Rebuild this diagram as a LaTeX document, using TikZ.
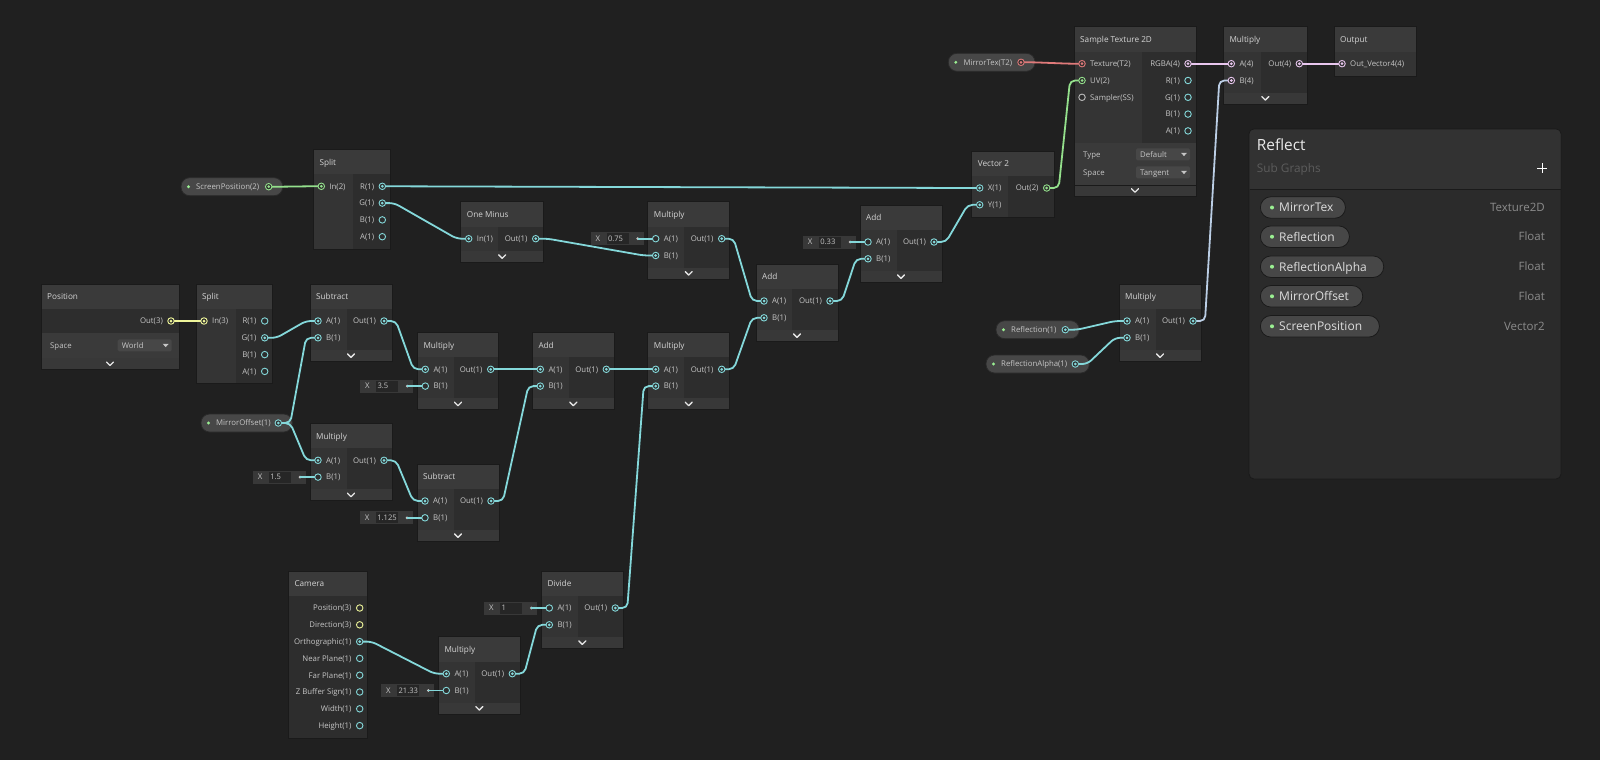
\documentclass[tikz,border=0pt]{standalone}
\usepackage{fontspec}
\setmainfont{Open Sans}
\usetikzlibrary{positioning}
\pgfdeclarelayer{fg}
\pgfsetlayers{main,fg}

\definecolor{bgc}{HTML}{202020}
\definecolor{hdc}{HTML}{3A3A3A}
\definecolor{inc}{HTML}{343434}
\definecolor{outc}{HTML}{2D2D2D}
\definecolor{ftc}{HTML}{383838}
\definecolor{edgec}{HTML}{1A1A1A}
\definecolor{ttlc}{HTML}{D4D4D4}
\definecolor{lblc}{HTML}{C6C6C6}
\definecolor{chevc}{HTML}{E6E6E6}
\definecolor{pillc}{HTML}{474747}
\definecolor{pilledge}{HTML}{2A2A2A}
\definecolor{dotg}{HTML}{9AEF92}
\definecolor{valc}{HTML}{383838}
\definecolor{fldc}{HTML}{262626}
\definecolor{ddc}{HTML}{474747}
\definecolor{wcy}{HTML}{84D8DA}
\definecolor{wgn}{HTML}{94E08C}
\definecolor{wyl}{HTML}{EEF59A}
\definecolor{wpk}{HTML}{E8C6EE}
\definecolor{wrd}{HTML}{E07A7A}
\definecolor{wgr}{HTML}{BDBDBD}
\definecolor{panc}{HTML}{2B2B2B}
\definecolor{panhd}{HTML}{323232}
\definecolor{ppillc}{HTML}{474747}

\tikzset{
  ttl/.style={text=ttlc,font=\fontsize{8.2}{10}\selectfont,inner sep=0pt,text height=6pt,text depth=0pt},
  lbl/.style={text=lblc,font=\fontsize{7.8}{10}\selectfont,inner sep=0pt,text height=5.7pt,text depth=0pt},
  edge/.style={draw=edgec,line width=0.6pt},
  chev/.style={draw=chevc,line width=1.3pt,line cap=round,line join=round},
  sock/.style={circle,draw=#1,line width=0.9pt,fill=outc,minimum size=6.5pt,inner sep=0pt},
  sockon/.style={sock=#1,path picture={\fill[#1] (path picture bounding box.center) circle (1.5pt);}},
  wire/.style={line width=1.8pt,rounded corners=5pt},
  valbox/.style={fill=valc,minimum width=53pt,minimum height=13pt,inner sep=0pt},
  valfld/.style={fill=fldc,text width=19pt,minimum height=11pt,inner xsep=1.5pt,inner ysep=0pt,align=left,
    text=lblc,font=\fontsize{7.6}{9}\selectfont,text height=5.5pt,text depth=0pt},
  valdot/.style={circle,fill=lblc,minimum size=3pt,inner sep=0pt},
  ppill/.style={fill=ppillc,draw=edgec,line width=0.8pt,rounded corners=10.5pt,minimum height=21.5pt,inner sep=0pt},
  plbl/.style={text=ttlc!80!white,font=\fontsize{12}{14}\selectfont,inner sep=0pt,text height=8.6pt,text depth=0pt},
  ptyp/.style={text=white!55!black,font=\fontsize{11.5}{14}\selectfont,inner sep=0pt,text height=8.2pt,text depth=0pt}
}

% graph node: name, left, top, width, input width, rows, title, footer
\newcommand{\gnode}[8]{%
  \fill[hdc] (#2,#3) rectangle ++(#4,25);
  \node[ttl,anchor=west] (#1) at ({#2+6},{#3+12.8}) {#7};
  \fill[outc] ({#2},{#3+25}) rectangle ({#2+#4},{#3+32.5+16.8*#6});
  \fill[inc] ({#2},{#3+25}) rectangle ({#2+#5},{#3+32.5+16.8*#6});
  \ifnum#8=1
    \fill[ftc] ({#2},{#3+32.5+16.8*#6}) rectangle ({#2+#4},{#3+43.5+16.8*#6});
    \draw[chev] ({#2+#4/2-3.5},{#3+36.3+16.8*#6}) -- ({#2+#4/2},{#3+39.8+16.8*#6}) -- ({#2+#4/2+3.5},{#3+36.3+16.8*#6});
    \draw[edge] (#2,#3) rectangle ({#2+#4},{#3+43.5+16.8*#6});
  \else
    \draw[edge] (#2,#3) rectangle ({#2+#4},{#3+32.5+16.8*#6});
  \fi
}
% ports: name, left/right, top, row, label, socket
\newcommand{\sgpin}[6]{%
  \node[lbl,anchor=west] at ({#2+16},{#3+37+16.8*#4}) {#5};
  \begin{pgfonlayer}{fg}\node[#6] (#1) at ({#2+8},{#3+37+16.8*#4}) {};\end{pgfonlayer}
}
\newcommand{\sgpout}[6]{%
  \node[lbl,anchor=east] at ({#2-16},{#3+37+16.8*#4}) {#5};
  \begin{pgfonlayer}{fg}\node[#6] (#1) at ({#2-8},{#3+37+16.8*#4}) {};\end{pgfonlayer}
}
% property pill: name, left, y, width, label, socket
\newcommand{\sgpill}[6]{%
  \fill[pillc,draw=pilledge,line width=0.8pt,rounded corners=8.5pt] (#2,{#3-9}) rectangle ({#2+#4},{#3+9});
  \fill[dotg] ({#2+7.5},#3) circle (1.6);
  \node[lbl,anchor=west] at ({#2+15},#3) {#5};
  \begin{pgfonlayer}{fg}\node[#6] (#1) at ({#2+#4-14},#3) {};\end{pgfonlayer}
}
% inline value: name, port, value
\newcommand{\sgval}[3]{%
  \node[valbox,anchor=east] (#1) at ([xshift=-12pt]#2.center) {};
  \node[lbl,anchor=west] at ([xshift=5pt]#1.west) {X};
  \node[valfld,anchor=west] at ([xshift=16pt]#1.west) {#3};
  \node[valdot] (#1-d) at ([xshift=-6pt]#1.east) {};
  \draw[wire,wcy] (#1-d.center) -- (#2.center);
}
\newcommand{\sgwire}[3][wcy]{\draw[wire,#1] (#2.center) -- ++(12,0) -- ([xshift=-12pt]#3.center) -- (#3.center);}
\newcommand{\sgdrop}[3]{% x, y, text
  \fill[ddc,rounded corners=1.5pt] (#1,{#2-6}) rectangle ({#1+54},{#2+6});
  \node[lbl,anchor=west] at ({#1+4},#2) {#3};
  \fill[lblc] ({#1+45},{#2-1.5}) -- ({#1+51},{#2-1.5}) -- ({#1+48},{#2+1.8}) -- cycle;
}
% panel property: name, y, width, label, type
\newcommand{\sgprop}[5]{%
  \node[ppill,minimum width=#3pt,anchor=west] (#1) at (1260,#2) {};
  \fill[dotg] (1272,#2) circle (2);
  \node[plbl,anchor=west] at (1279,#2) {#4};
  \node[ptyp,anchor=east] at (1545,#2) {#5};
}

\begin{document}
\begin{tikzpicture}[x=1pt,y=-1pt]
 \useasboundingbox (0,0) rectangle (1600,760);
 \fill[bgc] (0,0) rectangle (1600,760);

 % screen position branch
 \sgpill{scrpos}{181}{186.7}{101.7}{ScreenPosition(2)}{sockon=wgn}
 \gnode{splitA}{313.3}{149.3}{77}{39.4}{4}{Split}{0}
 \sgpin{sA-in}{313.3}{149.3}{0}{In(2)}{sockon=wgn}
 \sgpout{sA-r}{390.3}{149.3}{0}{R(1)}{sockon=wcy}
 \sgpout{sA-g}{390.3}{149.3}{1}{G(1)}{sockon=wcy}
 \sgpout{sA-b}{390.3}{149.3}{2}{B(1)}{sock=wcy}
 \sgpout{sA-a}{390.3}{149.3}{3}{A(1)}{sock=wcy}

 \gnode{omin}{460.7}{201.7}{83}{37.6}{1}{One Minus}{1}
 \sgpin{om-in}{460.7}{201.7}{0}{In(1)}{sockon=wcy}
 \sgpout{om-out}{543.7}{201.7}{0}{Out(1)}{sockon=wcy}

 \gnode{mulA}{647.7}{201.7}{82}{36.6}{2}{Multiply}{1}
 \sgpin{mA-a}{647.7}{201.7}{0}{A(1)}{sock=wcy}
 \sgpin{mA-b}{647.7}{201.7}{1}{B(1)}{sockon=wcy}
 \sgpout{mA-out}{729.7}{201.7}{0}{Out(1)}{sockon=wcy}

 \gnode{addA}{756}{264}{82}{35.7}{2}{Add}{1}
 \sgpin{aA-a}{756}{264}{0}{A(1)}{sockon=wcy}
 \sgpin{aA-b}{756}{264}{1}{B(1)}{sockon=wcy}
 \sgpout{aA-out}{838}{264}{0}{Out(1)}{sockon=wcy}

 \gnode{addB}{860}{205}{82}{37.3}{2}{Add}{1}
 \sgpin{aB-a}{860}{205}{0}{A(1)}{sock=wcy}
 \sgpin{aB-b}{860}{205}{1}{B(1)}{sockon=wcy}
 \sgpout{aB-out}{942}{205}{0}{Out(1)}{sockon=wcy}

 \gnode{vecA}{971.7}{151}{83}{36.6}{2}{Vector 2}{0}
 \sgpin{v-x}{971.7}{151}{0}{X(1)}{sockon=wcy}
 \sgpin{v-y}{971.7}{151}{1}{Y(1)}{sockon=wcy}
 \sgpout{v-out}{1054.7}{151}{0}{Out(2)}{sockon=wgn}

 % texture sampling
 \sgpill{mtex}{948.3}{62.3}{86.7}{MirrorTex(T2)}{sockon=wrd}
 \gnode{smp}{1074}{26.7}{122}{67.7}{5}{Sample Texture 2D}{0}
 \fill[hdc] (1074,143.2) rectangle (1196,185);
 \fill[ftc] (1074,185) rectangle (1196,196);
 \draw[edgec,line width=0.6pt] (1074,185) -- (1196,185);
 \draw[chev] (1131.5,188.7) -- (1135,192.2) -- (1138.5,188.7);
 \draw[edge] (1074,26.7) rectangle (1196,196);
 \node[lbl,anchor=west] at (1083,154.3) {Type};
 \sgdrop{1136}{154.3}{Default}
 \node[lbl,anchor=west] at (1083,172.3) {Space};
 \sgdrop{1136}{172.3}{Tangent}
 \sgpin{st-tex}{1074}{26.7}{0}{Texture(T2)}{sockon=wrd}
 \sgpin{st-uv}{1074}{26.7}{1}{UV(2)}{sockon=wgn}
 \sgpin{st-smp}{1074}{26.7}{2}{Sampler(SS)}{sock=wgr}
 \sgpout{st-rgba}{1196}{26.7}{0}{RGBA(4)}{sockon=wpk}
 \sgpout{st-r}{1196}{26.7}{1}{R(1)}{sock=wcy}
 \sgpout{st-g}{1196}{26.7}{2}{G(1)}{sock=wcy}
 \sgpout{st-b}{1196}{26.7}{3}{B(1)}{sock=wcy}
 \sgpout{st-a}{1196}{26.7}{4}{A(1)}{sock=wcy}

 \gnode{mulB}{1223.3}{26.7}{84}{37.7}{2}{Multiply}{1}
 \sgpin{mB-a}{1223.3}{26.7}{0}{A(4)}{sockon=wpk}
 \sgpin{mB-b}{1223.3}{26.7}{1}{B(4)}{sockon=wpk}
 \sgpout{mB-out}{1307.3}{26.7}{0}{Out(4)}{sockon=wpk}

 \gnode{outn}{1334}{26.7}{82}{82}{1}{Output}{0}
 \sgpin{o-in}{1334}{26.7}{0}{Out\_Vector4(4)}{sockon=wpk}

 \sgpill{refl}{996}{329.7}{83.3}{Reflection(1)}{sockon=wcy}
 \sgpill{reflal}{986}{364}{103.3}{ReflectionAlpha(1)}{sockon=wcy}
 \gnode{mulC}{1119}{284}{82}{36.7}{2}{Multiply}{1}
 \sgpin{mC-a}{1119}{284}{0}{A(1)}{sockon=wcy}
 \sgpin{mC-b}{1119}{284}{1}{B(1)}{sockon=wcy}
 \sgpout{mC-out}{1201}{284}{0}{Out(1)}{sockon=wcy}

 % world position branch
 \gnode{posn}{41}{284}{138}{0}{1}{Position}{0}
 \fill[hdc] (41,333.3) rectangle (179,358.3);
 \fill[ftc] (41,358.3) rectangle (179,369.3);
 \draw[chev] (106.5,362) -- (110,365.5) -- (113.5,362);
 \draw[edge] (41,284) rectangle (179,369.3);
 \node[lbl,anchor=west] at (50,345.3) {Space};
 \sgdrop{117.7}{345.3}{World}
 \sgpout{pos-out}{179}{284}{0}{Out(3)}{sockon=wyl}

 \gnode{splitB}{196}{284}{76.7}{39.7}{4}{Split}{0}
 \sgpin{sB-in}{196}{284}{0}{In(3)}{sockon=wyl}
 \sgpout{sB-r}{272.7}{284}{0}{R(1)}{sock=wcy}
 \sgpout{sB-g}{272.7}{284}{1}{G(1)}{sockon=wcy}
 \sgpout{sB-b}{272.7}{284}{2}{B(1)}{sock=wcy}
 \sgpout{sB-a}{272.7}{284}{3}{A(1)}{sock=wcy}

 \gnode{subA}{310}{284}{82}{36.7}{2}{Subtract}{1}
 \sgpin{sbA-a}{310}{284}{0}{A(1)}{sockon=wcy}
 \sgpin{sbA-b}{310}{284}{1}{B(1)}{sockon=wcy}
 \sgpout{sbA-out}{392}{284}{0}{Out(1)}{sockon=wcy}

 \sgpill{mirof}{201}{423}{91.3}{MirrorOffset(1)}{sockon=wcy}

 \gnode{mulD}{417.3}{332.3}{81.4}{37}{2}{Multiply}{1}
 \sgpin{mD-a}{417.3}{332.3}{0}{A(1)}{sockon=wcy}
 \sgpin{mD-b}{417.3}{332.3}{1}{B(1)}{sock=wcy}
 \sgpout{mD-out}{498.7}{332.3}{0}{Out(1)}{sockon=wcy}

 \gnode{addC}{532.3}{332.3}{82}{36.7}{2}{Add}{1}
 \sgpin{aC-a}{532.3}{332.3}{0}{A(1)}{sockon=wcy}
 \sgpin{aC-b}{532.3}{332.3}{1}{B(1)}{sockon=wcy}
 \sgpout{aC-out}{614.3}{332.3}{0}{Out(1)}{sockon=wcy}

 \gnode{mulE}{647.7}{332.3}{82}{36.6}{2}{Multiply}{1}
 \sgpin{mE-a}{647.7}{332.3}{0}{A(1)}{sockon=wcy}
 \sgpin{mE-b}{647.7}{332.3}{1}{B(1)}{sockon=wcy}
 \sgpout{mE-out}{729.7}{332.3}{0}{Out(1)}{sockon=wcy}

 \gnode{mulF}{310}{423.3}{82}{37.3}{2}{Multiply}{1}
 \sgpin{mF-a}{310}{423.3}{0}{A(1)}{sockon=wcy}
 \sgpin{mF-b}{310}{423.3}{1}{B(1)}{sock=wcy}
 \sgpout{mF-out}{392}{423.3}{0}{Out(1)}{sockon=wcy}

 \gnode{subB}{417}{464}{82}{37}{2}{Subtract}{1}
 \sgpin{sbB-a}{417}{464}{0}{A(1)}{sockon=wcy}
 \sgpin{sbB-b}{417}{464}{1}{B(1)}{sock=wcy}
 \sgpout{sbB-out}{499}{464}{0}{Out(1)}{sockon=wcy}

 % camera branch
 \gnode{cam}{288.3}{571}{79.4}{0}{8}{Camera}{0}
 \sgpout{c-pos}{367.7}{571}{0}{Position(3)}{sock=wyl}
 \sgpout{c-dir}{367.7}{571}{1}{Direction(3)}{sock=wyl}
 \sgpout{c-ortho}{367.7}{571}{2}{Orthographic(1)}{sockon=wcy}
 \sgpout{c-near}{367.7}{571}{3}{Near Plane(1)}{sock=wcy}
 \sgpout{c-far}{367.7}{571}{4}{Far Plane(1)}{sock=wcy}
 \sgpout{c-zb}{367.7}{571}{5}{Z Buffer Sign(1)}{sock=wcy}
 \sgpout{c-w}{367.7}{571}{6}{Width(1)}{sock=wcy}
 \sgpout{c-h}{367.7}{571}{7}{Height(1)}{sock=wcy}

 \gnode{mulG}{438.3}{636.7}{82}{37}{2}{Multiply}{1}
 \sgpin{mG-a}{438.3}{636.7}{0}{A(1)}{sockon=wcy}
 \sgpin{mG-b}{438.3}{636.7}{1}{B(1)}{sock=wcy}
 \sgpout{mG-out}{520.3}{636.7}{0}{Out(1)}{sockon=wcy}

 \gnode{divA}{541.3}{571}{82}{37}{2}{Divide}{1}
 \sgpin{dA-a}{541.3}{571}{0}{A(1)}{sock=wcy}
 \sgpin{dA-b}{541.3}{571}{1}{B(1)}{sockon=wcy}
 \sgpout{dA-out}{623.3}{571}{0}{Out(1)}{sockon=wcy}

 % inline values
 \sgval{vA}{mA-a}{0.75}
 \sgval{vB}{aB-a}{0.33}
 \sgval{vC}{mD-b}{3.5}
 \sgval{vD}{mF-b}{1.5}
 \sgval{vE}{sbB-b}{1.125}
 \sgval{vF}{dA-a}{1}
 \sgval{vG}{mG-b}{21.33}

 % wires
 \sgwire[wgn]{scrpos}{sA-in}
 \sgwire{sA-r}{v-x}
 \sgwire{sA-g}{om-in}
 \sgwire{om-out}{mA-b}
 \sgwire{mA-out}{aA-a}
 \sgwire{aA-out}{aB-b}
 \sgwire{aB-out}{v-y}
 \sgwire[wgn]{v-out}{st-uv}
 \sgwire[wrd]{mtex}{st-tex}
 \sgwire[wpk]{st-rgba}{mB-a}
 \sgwire[wpk]{mB-out}{o-in}
 \sgwire[wcy!45!wpk]{mC-out}{mB-b}
 \sgwire{refl}{mC-a}
 \sgwire{reflal}{mC-b}
 \sgwire[wyl]{pos-out}{sB-in}
 \sgwire{sB-g}{sbA-a}
 \sgwire{mirof}{sbA-b}
 \sgwire{mirof}{mF-a}
 \sgwire{sbA-out}{mD-a}
 \sgwire{mD-out}{aC-a}
 \sgwire{aC-out}{mE-a}
 \sgwire{mE-out}{aA-b}
 \sgwire{mF-out}{sbB-a}
 \sgwire{sbB-out}{aC-b}
 \sgwire{c-ortho}{mG-a}
 \sgwire{mG-out}{dA-b}
 \sgwire{dA-out}{mE-b}

 % blackboard panel
 \fill[panc,draw=edgec,line width=0.8pt,rounded corners=5pt] (1249,129) rectangle (1561,479);
 \fill[panhd] (1249.5,189.3) [rounded corners=4.5pt] -- (1249.5,129.5) -- (1560.5,129.5) [sharp corners] -- (1560.5,189.3) -- cycle;
 \draw[edgec,line width=0.6pt] (1249.5,189.3) -- (1560.5,189.3);
 \node[anchor=west,text=white!92!black,font=\fontsize{15.4}{18}\selectfont,inner sep=0pt,text height=11pt,text depth=0pt] (pantitle) at (1256.7,144.5) {Reflect};
 \node[anchor=west,text=white!36!black,font=\fontsize{11.8}{14}\selectfont,inner sep=0pt,text height=8.4pt,text depth=0pt] (pansub) at (1256.7,168.3) {Sub Graphs};
 \draw[white,line width=1.5pt] (1537.3,168.3) -- (1547.3,168.3) (1542.3,163.3) -- (1542.3,173.3);
 \sgprop{pMT}{207.5}{85}{MirrorTex}{Texture2D}
 \sgprop{pRF}{236.7}{89}{Reflection}{Float}
 \sgprop{pRA}{266.7}{123.3}{ReflectionAlpha}{Float}
 \sgprop{pMO}{296.3}{102.3}{MirrorOffset}{Float}
 \sgprop{pSP}{326.3}{119}{ScreenPosition}{Vector2}
\end{tikzpicture}
\end{document}
